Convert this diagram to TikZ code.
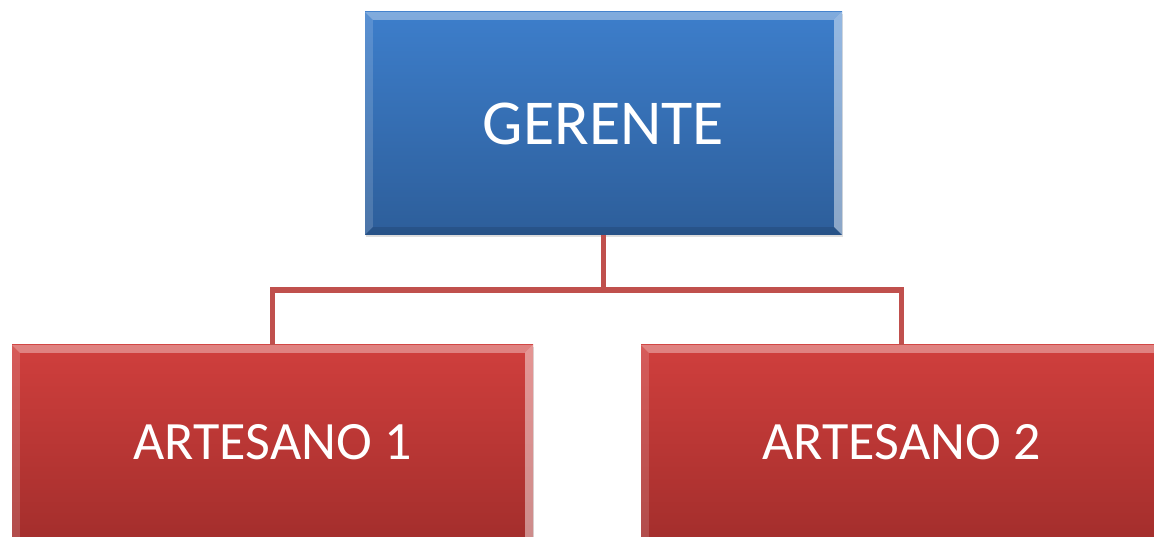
\documentclass[tikz,border=0pt]{standalone}
\usepackage{fontspec}
\setmainfont{Carlito}
\usetikzlibrary{calc,positioning,shadows}

\definecolor{bluetop}{HTML}{3D7ECB}
\definecolor{bluebot}{HTML}{2D5E9A}
\definecolor{redtop}{HTML}{D03F3D}
\definecolor{redbot}{HTML}{9E2C2A}
\definecolor{linkred}{HTML}{C0504D}

% bevelled edges of a box
\newcommand{\bevelbox}[1]{%
\fill[white,fill opacity=0.35]($(#1.north west)$)--($(#1.north east)$)--($(#1.north east)+(-8,-8)$)--($(#1.north west)+(8,-8)$)--cycle;
\fill[white,fill opacity=0.15]($(#1.north west)$)--($(#1.north west)+(8,-8)$)--($(#1.south west)+(8,8)$)--($(#1.south west)$)--cycle;
\fill[white,fill opacity=0.45]($(#1.north east)$)--($(#1.north east)+(-8,-8)$)--($(#1.south east)+(-8,8)$)--($(#1.south east)$)--cycle;
\fill[black,fill opacity=0.12]($(#1.south west)$)--($(#1.south west)+(8,8)$)--($(#1.south east)+(-8,8)$)--($(#1.south east)$)--cycle;
}

\begin{document}
\begin{tikzpicture}[x=1pt,y=1pt,
  box/.style={rectangle,inner sep=0pt,text=white,
    drop shadow={opacity=0.25,shadow xshift=1pt,shadow yshift=-2pt}},
  bossbox/.style={box,top color=bluetop,bottom color=bluebot,
    minimum width=477pt,minimum height=223pt,font=\fontsize{64}{70}\selectfont},
  workbox/.style={box,top color=redtop,bottom color=redbot,text depth=26pt,
    minimum width=521pt,minimum height=220pt,font=\fontsize{54}{60}\selectfont},
  conn/.style={draw=linkred,line width=5.5pt}]
\useasboundingbox(0,0)rectangle(1154,537);
\clip(0,0)rectangle(1154,537);
\node[bossbox](gerente)at(603.5,413.5){GERENTE};
\node[workbox](art1)at(272.5,82){ARTESANO 1};
\node[workbox](art2)at(901.5,82){ARTESANO 2};
\bevelbox{gerente}
\bevelbox{art1}
\bevelbox{art2}
\draw[conn](gerente.south)--++(0,-55)coordinate(split);
\draw[conn](split)-|(art1.north);
\draw[conn](split)-|(art2.north);
\end{tikzpicture}
\end{document}
